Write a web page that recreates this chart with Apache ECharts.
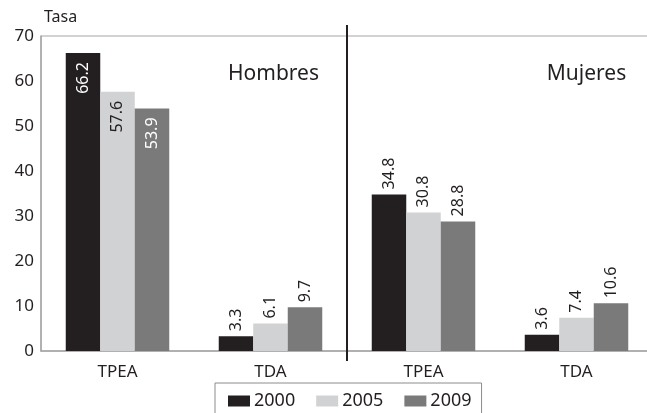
<!DOCTYPE html>
<html>
<head>
<meta charset="utf-8">
<script src="https://cdn.jsdelivr.net/npm/echarts@6/dist/echarts.min.js"></script>
<style>html,body{margin:0;padding:0;background:#fff;}#c{width:647px;height:413px;}</style>
</head>
<body>
<div id="c"></div>
<script>
const categories = ['TPEA', 'TDA', 'TPEA', 'TDA'];
const years = ['2000', '2005', '2009'];
const s2000 = [66.2, 3.3, 34.8, 3.6];
const s2005 = [57.6, 6.1, 30.8, 7.4];
const s2009 = [53.9, 9.7, 28.8, 10.6];
const yTicks = [0, 10, 20, 30, 40, 50, 60, 70];
const groups = ['Hombres', 'Mujeres'];

const colors = ['#231f20', '#d1d2d3', '#7a7a7b'];
const insideLabelColors = ['#ffffff', '#231f20', '#ffffff'];
const FONT = 'Noto Sans';

const chart = echarts.init(document.getElementById('c'), null, {renderer: 'canvas'});

function makeSeries(name, vals, idx) {
  return {
    name: name,
    type: 'bar',
    barWidth: 34.5,
    barGap: '0%',
    itemStyle: {color: colors[idx]},
    data: vals.map((v, i) => {
      const item = {value: v};
      if (i === 0) {
        item.label = {
          position: 'insideTop', rotate: 90, align: 'right', verticalAlign: 'middle',
          distance: 9, color: insideLabelColors[idx]
        };
      }
      return item;
    }),
    label: {
      show: true, position: 'top', rotate: 90, align: 'left', verticalAlign: 'middle',
      distance: 5, fontSize: 16, fontFamily: FONT, color: '#231f20',
      formatter: p => p.value.toFixed(1)
    }
  };
}

const option = {
  animation: false,
  textStyle: {fontFamily: FONT},
  grid: {left: 41, top: 36, width: 612, bottom: 62, show: true, borderColor: '#a6a6a6', borderWidth: 1,
         outerBoundsMode: 'none', containLabel: false},
  legend: {
    data: years,
    left: 215, top: 383,
    padding: [9, 10, 24, 13],
    borderColor: '#8c8c8c', borderWidth: 1, borderRadius: 0,
    itemWidth: 22, itemHeight: 11, itemGap: 21,
    icon: 'rect',
    textStyle: {fontSize: 18, fontFamily: FONT, color: '#231f20', padding: [0, 0, 0, -1]}
  },
  xAxis: {
    type: 'category', data: categories,
    axisLine: {lineStyle: {color: '#a6a6a6', width: 1.5}},
    axisTick: {show: false},
    axisLabel: {fontSize: 17, fontFamily: FONT, color: '#231f20', margin: 13}
  },
  yAxis: {
    type: 'value', min: 0, max: 70, interval: 10,
    axisLine: {show: true, lineStyle: {color: '#a6a6a6', width: 1.5}},
    axisTick: {show: false},
    splitLine: {show: false},
    axisLabel: {fontSize: 17, fontFamily: FONT, color: '#231f20', margin: 7,
      formatter: v => yTicks.includes(v) ? String(v) : ''}
  },
  series: [makeSeries(years[0], s2000, 0), makeSeries(years[1], s2005, 1), makeSeries(years[2], s2009, 2)]
};
chart.setOption(option);

// Decorations positioned through the axis scales
const x1 = chart.convertToPixel({xAxisIndex: 0}, 1);
const x2 = chart.convertToPixel({xAxisIndex: 0}, 2);
const x3 = chart.convertToPixel({xAxisIndex: 0}, 3);
const divX = (x1 + x2) / 2;
const y0 = chart.convertToPixel({yAxisIndex: 0}, 0);
const y70 = chart.convertToPixel({yAxisIndex: 0}, 70);
const yLab = chart.convertToPixel({yAxisIndex: 0}, 61.5);

chart.setOption({
  graphic: [
    {type: 'line', shape: {x1: divX, y1: y70 - 11, x2: divX, y2: y0 + 10},
     style: {stroke: '#231f20', lineWidth: 2}, z: 10},
    {type: 'text', left: 44, top: 9,
     style: {text: 'Tasa', fontSize: 16, fontFamily: FONT, fill: '#231f20'}},
    {type: 'text', x: x1 + 3, y: yLab,
     style: {text: groups[0], fontSize: 21, fontFamily: FONT, fill: '#231f20', align: 'center', verticalAlign: 'middle'}},
    {type: 'text', x: x3 + 10, y: yLab,
     style: {text: groups[1], fontSize: 21, fontFamily: FONT, fill: '#231f20', align: 'center', verticalAlign: 'middle'}}
  ]
});
</script>
</body>
</html>
